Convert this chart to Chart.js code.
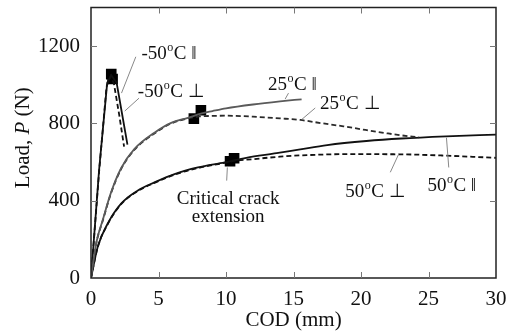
<!DOCTYPE html>
<html>
<head>
<meta charset="utf-8">
<script src="https://cdn.jsdelivr.net/npm/chart.js@4.4.0/dist/chart.umd.min.js"></script>
<style>
  html, body { margin: 0; padding: 0; background: #fff; }
</style>
</head>
<body>
<canvas id="grafico" width="512" height="331"></canvas>
<script>
// tick values
var codTicks = [0, 5, 10, 15, 20, 25, 30];
var loadTicks = [0, 400, 800, 1200];

// -50 C, parallel (solid) and perpendicular (dashed)
var codM50Par = [0, 0.6, 1.2, 1.5, 1.9, 2.3, 2.7];
var loadM50Par = [0, 560, 1010, 1050, 1010, 850, 690];
var codM50Perp = [0, 0.6, 1.15, 1.45, 1.7, 2.1, 2.45];
var loadM50Perp = [0, 550, 990, 1045, 1005, 840, 680];

// 25 C
var cod25Par = [0, 0.4, 0.87, 1.48, 2.23, 3.22, 4.7, 5.94, 7.18, 8.2, 9, 10, 12, 14, 15.6];
var load25Par = [0, 185, 300, 442, 568, 668, 752, 803, 829, 852, 864, 878, 898, 914, 925];
var cod25Perp = [0, 0.4, 0.87, 1.48, 2.23, 3.22, 4.7, 5.94, 7.18, 7.6, 8, 9, 10, 12, 14, 15.5, 17, 18.7, 20, 22, 23.6, 24.3];
var load25Perp = [0, 182, 296, 438, 564, 664, 748, 800, 826, 832, 836, 839, 840, 835, 826, 818, 802, 785, 770, 748, 733, 728];

// 50 C
var cod50Par = [0, 0.5, 1.24, 2.23, 3.47, 4.7, 6.19, 7.92, 9.9, 11.5, 13.75, 15.5, 17.5, 20.4, 23, 26.3, 30];
var load50Par = [0, 162, 282, 385, 453, 495, 538, 572, 598, 622, 646, 666, 688, 709, 722, 733, 742];
var cod50Perp = [0, 0.5, 1.24, 2.23, 3.47, 4.7, 6.19, 7.92, 9.9, 10.5, 12, 14, 16, 19, 23, 26, 30];
var load50Perp = [0, 160, 279, 382, 450, 492, 535, 569, 596, 605, 615, 628, 636, 641, 640, 634, 622];

// critical crack extension markers
var codCritico = [1.5, 1.6, 7.62, 8.14, 10.3, 10.6];
var loadCritico = [1055, 1030, 825, 868, 604, 620];

// text labels (data coordinates)
var etichette = [
    { testo: '-50°C ǁ', x: 3.74, y: 1135, linea: [3.32, 1145, 2.26, 957] },
    { testo: '-50°C ⊥', x: 3.47, y: 935, linea: [3.56, 931, 2.5, 864] },
    { testo: '25°C ǁ', x: 13.12, y: 971, linea: [14.63, 957, 14.38, 926] },
    { testo: '25°C ⊥', x: 16.97, y: 873, linea: [16.61, 880, 15.62, 821] },
    { testo: '50°C ⊥', x: 18.83, y: 417, linea: [22.17, 547, 22.79, 641] },
    { testo: '50°C ǁ', x: 24.92, y: 448, linea: [26.5, 572, 26.33, 726] },
    { testo: 'Critical crack', x: 10.16, y: 381, centro: true, linea: [10.1, 572, 10.05, 504] },
    { testo: 'extension', x: 10.16, y: 289, centro: true }
];

var FONT = "'Liberation Serif', 'Times New Roman', serif";

function punti(xs, ys) {
    var out = [];
    for (var i = 0; i < xs.length; i++) {
        out.push({ x: xs[i], y: ys[i] });
    }
    return out;
}

function curva(xs, ys, colore, tratteggio, tensione) {
    return {
        data: punti(xs, ys),
        showLine: true,
        borderColor: colore,
        borderWidth: 1.8,
        borderDash: tratteggio ? [5, 3] : [],
        pointRadius: 0,
        tension: tensione,
        cubicInterpolationMode: tensione ? 'monotone' : 'default',
        fill: false
    };
}

// frame, inner ticks, axis titles and labels
var cornice = {
    id: 'cornice',
    afterDraw: function(chart) {
        var ctx = chart.ctx;
        var a = chart.chartArea;
        var sx = chart.scales.x, sy = chart.scales.y;
        ctx.save();
        ctx.strokeStyle = '#222';
        ctx.lineWidth = 1.5;
        ctx.strokeRect(a.left, a.top, a.right - a.left, a.bottom - a.top);

        ctx.strokeStyle = '#777';
        ctx.lineWidth = 1;
        ctx.beginPath();
        codTicks.forEach(function(v) {
            if (v === 0 || v === 30) return;
            var px = Math.round(sx.getPixelForValue(v)) + 0.5;
            ctx.moveTo(px, a.bottom); ctx.lineTo(px, a.bottom - 6);
            ctx.moveTo(px, a.top); ctx.lineTo(px, a.top + 6);
        });
        loadTicks.forEach(function(v) {
            if (v === 0) return;
            var py = Math.round(sy.getPixelForValue(v)) + 0.5;
            ctx.moveTo(a.left, py); ctx.lineTo(a.left + 6, py);
            ctx.moveTo(a.right, py); ctx.lineTo(a.right - 6, py);
        });
        ctx.stroke();

        // leader lines
        ctx.strokeStyle = '#888';
        ctx.lineWidth = 1;
        etichette.forEach(function(e) {
            if (!e.linea) return;
            ctx.beginPath();
            ctx.moveTo(sx.getPixelForValue(e.linea[0]), sy.getPixelForValue(e.linea[1]));
            ctx.lineTo(sx.getPixelForValue(e.linea[2]), sy.getPixelForValue(e.linea[3]));
            ctx.stroke();
        });

        // labels
        ctx.fillStyle = '#111';
        ctx.textBaseline = 'alphabetic';
        etichette.forEach(function(e) {
            var px = sx.getPixelForValue(e.x);
            var py = sy.getPixelForValue(e.y);
            var pezzi = e.testo.split('°');
            ctx.font = '19px ' + FONT;
            if (pezzi.length === 1) {
                ctx.textAlign = e.centro ? 'center' : 'left';
                ctx.fillText(e.testo, px, py);
                return;
            }
            ctx.textAlign = 'left';
            ctx.fillText(pezzi[0], px, py);
            var w0 = ctx.measureText(pezzi[0]).width;
            ctx.font = '12px ' + FONT;
            ctx.fillText('o', px + w0 + 0.5, py - 8);
            var w1 = ctx.measureText('o').width;
            ctx.font = '19px ' + FONT;
            ctx.fillText(pezzi[1], px + w0 + w1 + 1, py);
        });

        // axis titles
        ctx.font = '21px ' + FONT;
        ctx.textAlign = 'center';
        ctx.fillText('COD (mm)', (a.left + a.right) / 2, 326);

        ctx.translate(29, (a.top + a.bottom) / 2 - 5);
        ctx.rotate(-Math.PI / 2);
        var p1 = 'Load, ', p2 = 'P', p3 = ' (N)';
        var fN = '21px ' + FONT, fI = 'italic 21px ' + FONT;
        ctx.font = fN; var w1a = ctx.measureText(p1).width; var w3 = ctx.measureText(p3).width;
        ctx.font = fI; var w2 = ctx.measureText(p2).width;
        var x0 = -(w1a + w2 + w3) / 2;
        ctx.textAlign = 'left';
        ctx.font = fN; ctx.fillText(p1, x0, 0);
        ctx.font = fI; ctx.fillText(p2, x0 + w1a, 0);
        ctx.font = fN; ctx.fillText(p3, x0 + w1a + w2, 0);
        ctx.restore();
    }
};

var ctx = document.getElementById('grafico');
var chart = new Chart(ctx, {
    type: 'scatter',
    data: {
        datasets: [
            curva(cod25Par, load25Par, '#5a5a5a', false, 0.4),
            curva(cod25Perp, load25Perp, '#2a2a2a', true, 0.4),
            curva(cod50Par, load50Par, '#111', false, 0.4),
            curva(cod50Perp, load50Perp, '#111', true, 0.4),
            curva(codM50Par, loadM50Par, '#111', false, 0),
            curva(codM50Perp, loadM50Perp, '#111', true, 0),
            {
                data: punti(codCritico, loadCritico),
                pointStyle: 'rect',
                pointRadius: 7.5,
                backgroundColor: '#000',
                borderColor: '#000',
                borderWidth: 0,
                showLine: false
            }
        ]
    },
    options: {
        responsive: false,
        animation: false,
        layout: { padding: { left: 0, top: 6, right: 16, bottom: 0 } },
        plugins: {
            legend: { display: false },
            tooltip: { enabled: false }
        },
        scales: {
            x: {
                type: 'linear',
                min: 0,
                max: 30,
                grid: { display: false, drawTicks: false },
                border: { display: false },
                ticks: {
                    color: '#111', padding: 9, font: { family: FONT, size: 21 },
                    callback: function(v) { return String(v); }
                },
                afterBuildTicks: function(scale) {
                    scale.ticks = codTicks.map(function(v) { return { value: v }; });
                },
                afterFit: function(scale) {
                    scale.height = 53;
                    scale.paddingLeft = 0;
                    scale.paddingRight = 0;
                }
            },
            y: {
                type: 'linear',
                min: 0,
                max: 1400,
                grid: { display: false, drawTicks: false },
                border: { display: false },
                ticks: {
                    color: '#111', padding: 11, font: { family: FONT, size: 21 },
                    callback: function(v) { return String(v); }
                },
                afterBuildTicks: function(scale) {
                    scale.ticks = loadTicks.map(function(v) { return { value: v }; });
                },
                afterFit: function(scale) {
                    scale.width = 91;
                    scale.paddingTop = 0;
                    scale.paddingBottom = 0;
                }
            }
        }
    },
    plugins: [cornice]
});
</script>
</body>
</html>
